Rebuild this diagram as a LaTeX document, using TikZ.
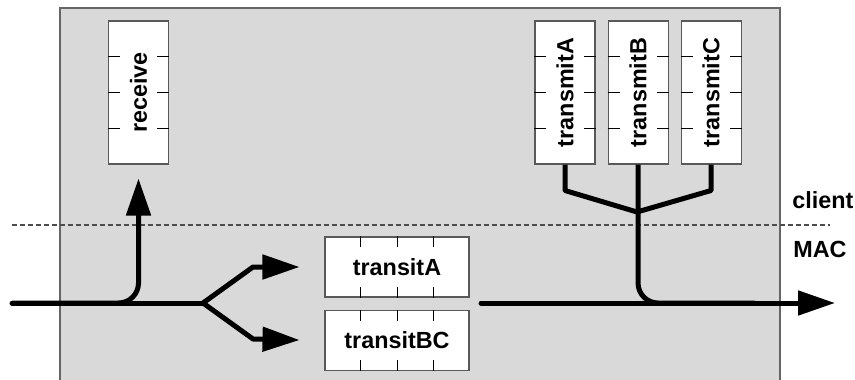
\documentclass[tikz,border=0pt]{standalone}
\usepackage{fontspec}
\setmainfont{Liberation Sans}
\usetikzlibrary{arrows.meta,positioning,calc}

\tikzset{
  queue/.style={draw=black!65,fill=white,line width=0.6pt,inner sep=0pt},
  hqueue/.style={queue,minimum width=2.88cm,minimum height=1.2cm},
  vqueue/.style={queue,minimum width=1.2cm,minimum height=2.86cm},
  slot/.style={line width=0.5pt},
  flow/.style={line width=0.1cm,line join=round},
  tip/.style={-{Triangle[length=0.74cm,width=0.48cm]}},
  layer/.style={anchor=base west,inner sep=0pt}
}

\begin{document}
\begin{tikzpicture}[x=0.02cm,y=-0.02cm,font=\fontsize{13.3}{15}\selectfont\bfseries]
  \useasboundingbox (0,0) rectangle (855,379);
  \fill[black!15,draw=black!60,line width=0.8pt] (60,8) rectangle (780,400);
  \draw[black!70,line width=0.6pt,dash pattern=on 0.1cm off 0.06cm] (12,225) -- (830,225);

  % queues
  \node[vqueue] (receive) at (138.5,92.5) {\rotatebox{90}{receive}};
  \node[vqueue] (transmitA) at (565,92.5) {\rotatebox{90}{transmitA}};
  \node[vqueue,right=0.24cm of transmitA] (transmitB) {\rotatebox{90}{transmitB}};
  \node[vqueue,right=0.24cm of transmitB] (transmitC) {\rotatebox{90}{transmitC}};
  \node[hqueue] (transitA) at (397,267) {transitA};
  \node[hqueue,below=0.24cm of transitA] (transitBC) {transitBC};

  \node[layer] (client) at (792,208) {client};
  \node[layer] (mac) at (793,257) {MAC};

  % slots
  \foreach \q in {transitA,transitBC}
    \foreach \f in {0.25,0.5,0.75} {
      \draw[slot] ($(\q.north west)!\f!(\q.north east)$) -- ++(0,11);
      \draw[slot] ($(\q.south west)!\f!(\q.south east)$) -- ++(0,-11);
    }
  \foreach \q in {receive,transmitA,transmitB,transmitC}
    \foreach \f in {0.25,0.5,0.75} {
      \draw[slot] ($(\q.north west)!\f!(\q.south west)$) -- ++(12,0);
      \draw[slot] ($(\q.north east)!\f!(\q.south east)$) -- ++(-12,0);
    }

  \coordinate (in) at (12,303);
  \coordinate (fork) at (203,303);
  \coordinate (out) at (481,303);
  \coordinate (end) at (835,303);
  \coordinate (junction) at (637,212);

  % flows
  \draw[flow,line cap=round] (in) -- (fork);
  \draw[flow,tip,rounded corners=0.4cm,shorten >=0.28cm] (in) -| (receive.south);
  \draw[flow,tip] (fork) -- ++(50,-36) -- ($(transitA.west)+(-25,0)$);
  \draw[flow,tip] (fork) -- ++(50,36) -- ($(transitBC.west)+(-25,0)$);
  \draw[flow,tip,line cap=round] (out) -- (end);
  \draw[flow] (transmitA.south) -- ++(0,26) -- (junction);
  \draw[flow] (transmitC.south) -- ++(0,26) -- (junction);
  \draw[flow,rounded corners=0.4cm] (transmitB.south) |- ($(end)+(-80,0)$);
\end{tikzpicture}
\end{document}
